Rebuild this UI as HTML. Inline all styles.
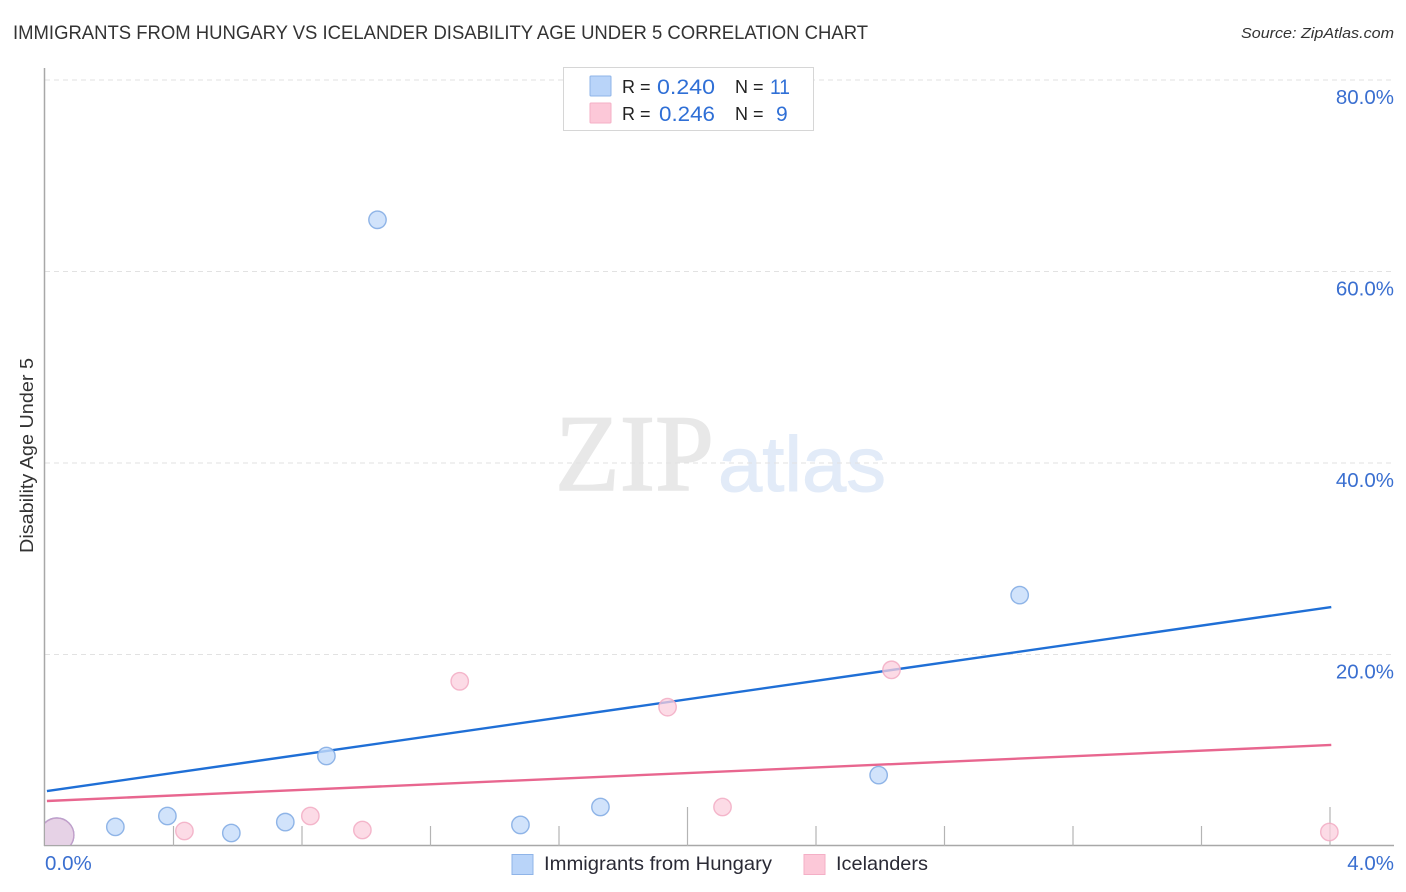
<!DOCTYPE html>
<html lang="en">
<head>
<meta charset="utf-8">
<title>Immigrants from Hungary vs Icelander Disability Age Under 5 Correlation Chart</title>
<style>
html,body{margin:0;padding:0;background:#fff;width:1406px;height:892px;overflow:hidden}
svg{display:block}
text{font-family:"Liberation Sans",sans-serif}
</style>
</head>
<body>
<svg id="chart" width="1406" height="892" viewBox="0 0 1406 892" xmlns="http://www.w3.org/2000/svg">
  <defs>
    <clipPath id="plot-clip"><rect x="45" y="60" width="1349" height="785"/></clipPath>
  </defs>
  <rect x="0" y="0" width="1406" height="892" fill="#ffffff"/>
  <text x="13" y="39" font-size="19" fill="#333333" textLength="855" lengthAdjust="spacingAndGlyphs">IMMIGRANTS FROM HUNGARY VS ICELANDER DISABILITY AGE UNDER 5 CORRELATION CHART</text>
  <text x="1241" y="38" font-size="15" font-style="italic" fill="#333333" textLength="153" lengthAdjust="spacingAndGlyphs">Source: ZipAtlas.com</text>

  <g>
    <text x="555" y="490" font-size="109" fill="#e8e8e8" stroke="#e8e8e8" stroke-width="1.5" style="font-family:'Liberation Serif',serif" textLength="159" lengthAdjust="spacingAndGlyphs">ZIP</text>
    <text x="718" y="491" font-size="78" fill="#e2ebf8" stroke="#e2ebf8" stroke-width="1" textLength="168" lengthAdjust="spacingAndGlyphs">atlas</text>
  </g>

  <g id="grid"></g>
  <g id="axes"></g>
  <g id="trends"></g>
  <g id="points" clip-path="url(#plot-clip)"></g>
  <g id="labels"></g>

  <text transform="translate(33,553) rotate(-90)" x="0" y="0" font-size="18.5" fill="#333333" textLength="195" lengthAdjust="spacingAndGlyphs">Disability Age Under 5</text>

  <g>
    <rect x="563.5" y="67.5" width="250" height="63" fill="#ffffff" stroke="#d6d6d6" stroke-width="1"/>
    <rect x="590" y="76" width="21" height="20" rx="1" fill="#b9d4f9" stroke="#8fb4e8" stroke-width="1"/>
    <text x="622" y="93" font-size="18" fill="#222222">R =</text>
    <text x="657" y="94" font-size="21" fill="#2f6fd6" textLength="58" lengthAdjust="spacingAndGlyphs">0.240</text>
    <text x="735" y="93" font-size="18" fill="#222222">N =</text>
    <text x="770" y="94" font-size="21" fill="#2f6fd6" textLength="20" lengthAdjust="spacingAndGlyphs">11</text>
    <rect x="590" y="103" width="21" height="20" rx="1" fill="#fcc8d8" stroke="#f4afc6" stroke-width="1"/>
    <text x="622" y="120" font-size="18" fill="#222222">R =</text>
    <text x="659" y="121" font-size="21" fill="#2f6fd6" textLength="56" lengthAdjust="spacingAndGlyphs">0.246</text>
    <text x="735" y="120" font-size="18" fill="#222222">N =</text>
    <text x="776" y="121" font-size="21" fill="#2f6fd6">9</text>
  </g>

  <g>
    <rect x="512" y="854.5" width="21" height="20" fill="#b9d4f9" stroke="#8fb4e8" stroke-width="1"/>
    <text x="544" y="870" font-size="19.5" fill="#2a2a35" textLength="228" lengthAdjust="spacingAndGlyphs">Immigrants from Hungary</text>
    <rect x="804" y="854.5" width="21" height="20" fill="#fcc8d8" stroke="#f4afc6" stroke-width="1"/>
    <text x="836" y="870" font-size="19.5" fill="#2a2a35" textLength="92" lengthAdjust="spacingAndGlyphs">Icelanders</text>
  </g>
</svg>
<script>
const yTickValues = [20, 40, 60, 80];
const yTickLabels = ["20.0%", "40.0%", "60.0%", "80.0%"];
const xTickValues = [0, 0.4, 0.8, 1.2, 1.6, 2.0, 2.4, 2.8, 3.2, 3.6, 4.0];
const xEndLabels = ["0.0%", "4.0%"];
const hungaryX = [1.035, 3.034, 0.876, 2.595, 1.729, 0.381, 0.748, 1.480, 0.219, 0.580];
const hungaryY = [65.4, 26.2, 9.4, 7.4, 4.07, 3.13, 2.5, 2.2, 2.0, 1.36];
const icelandX = [2.635, 1.291, 1.938, 2.109, 0.826, 0.434, 0.988, 3.998];
const icelandY = [18.4, 17.2, 14.5, 4.07, 3.13, 1.57, 1.67, 1.46];
const clusterX = [0.037];
const clusterY = [1.15];
const hungaryTrendX = [0.006, 4.004];
const hungaryTrendY = [5.74, 24.96];
const icelandTrendX = [0.006, 4.004];
const icelandTrendY = [4.7, 10.55];

const SVG_NS = "http://www.w3.org/2000/svg";
function xScale(v) { return 45 + v * 321.25; }
function yScale(v) { return 846 - v * 9.575; }
function make(tag, attrs, parent) {
  const el = document.createElementNS(SVG_NS, tag);
  Object.keys(attrs).forEach(function (k) { el.setAttribute(k, attrs[k]); });
  parent.appendChild(el);
  return el;
}
const gridG = document.getElementById("grid");
const axesG = document.getElementById("axes");
const trendsG = document.getElementById("trends");
const pointsG = document.getElementById("points");
const labelsG = document.getElementById("labels");

yTickValues.forEach(function (v, i) {
  const line = make("line", { x1: 45, x2: 1394, y1: yScale(v), y2: yScale(v), stroke: "#e2e2e2", "stroke-width": 1, "stroke-dasharray": "5 4" }, gridG);
  
  
  const label = make("text", { x: 1394, y: yScale(v) + 24, "text-anchor": "end", "font-size": 20.5, fill: "#3a6fd0" }, labelsG);
  label.textContent = yTickLabels[i];
  
  
});

const yAxis = make("line", { x1: 44.5, x2: 44.5, y1: 68, y2: 846, stroke: "#a8a8a8", "stroke-width": 1.5 }, axesG);


const xAxis = make("line", { x1: 44, x2: 1394, y1: 845.5, y2: 845.5, stroke: "#a8a8a8", "stroke-width": 1.5 }, axesG);



xTickValues.forEach(function (v, i) {
  if (i === 0) return;
  const top = (i % 5 === 0) ? 807 : 826;
  const tick = make("line", { x1: xScale(v), x2: xScale(v), y1: top, y2: 846, stroke: "#b4b4b4", "stroke-width": 1.2 }, axesG);
  
  
});

const xLabelLeft = make("text", { x: 45, y: 870, "font-size": 20.5, fill: "#3a6fd0" }, labelsG);
xLabelLeft.textContent = xEndLabels[0];


const xLabelRight = make("text", { x: 1394, y: 870, "text-anchor": "end", "font-size": 20.5, fill: "#3a6fd0" }, labelsG);
xLabelRight.textContent = xEndLabels[1];



function drawPoints(xs, ys, r, fill, stroke, opacity, name) {
  xs.forEach(function (x, i) {
    const c = make("circle", { cx: xScale(x), cy: yScale(ys[i]), r: r, fill: fill, "fill-opacity": opacity, stroke: stroke, "stroke-opacity": 0.85, "stroke-width": 1.4 }, pointsG);
    
    
  });
}
drawPoints(hungaryX, hungaryY, 8.7, "#c6dcfa", "#7fa9e3", 0.8, "hungary-point");
drawPoints(icelandX, icelandY, 8.7, "#fbcfdd", "#f2abc3", 0.75, "icelander-point");
drawPoints(clusterX, clusterY, 17, "#c6dcfa", "#7fa9e3", 0.8, "hungary-cluster-point");
drawPoints(clusterX, clusterY, 17, "#f3c6d8", "#c49ac4", 0.6, "icelander-cluster-point");

const blueTrend = make("line", { x1: xScale(hungaryTrendX[0]), y1: yScale(hungaryTrendY[0]), x2: xScale(hungaryTrendX[1]), y2: yScale(hungaryTrendY[1]), stroke: "#1f6fd6", "stroke-width": 2.4 }, trendsG);


const pinkTrend = make("line", { x1: xScale(icelandTrendX[0]), y1: yScale(icelandTrendY[0]), x2: xScale(icelandTrendX[1]), y2: yScale(icelandTrendY[1]), stroke: "#e8668f", "stroke-width": 2.4 }, trendsG);


</script>
</body>
</html>
